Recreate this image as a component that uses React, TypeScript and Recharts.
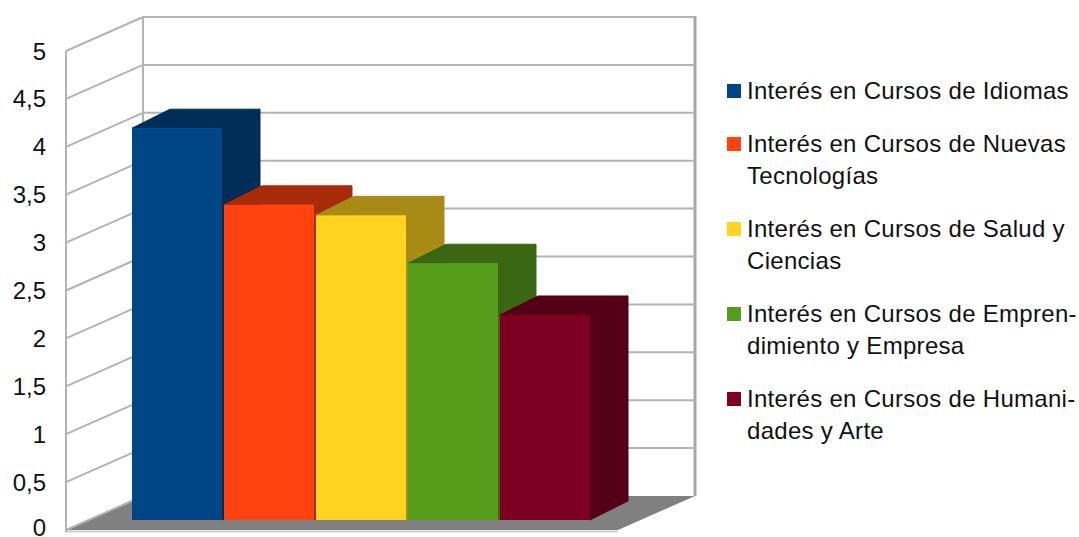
import { BarChart, Bar, XAxis, YAxis, CartesianGrid, Legend } from "recharts";

// Series, in the order they are drawn left to right
const SERIES_KEYS = ["idiomas", "tecnologias", "salud", "empresa", "humanidades"];
const SERIES_NAMES = [
  "Interés en Cursos de Idiomas",
  "Interés en Cursos de Nuevas Tecnologías",
  "Interés en Cursos de Salud y Ciencias",
  "Interés en Cursos de Emprendimiento y Empresa",
  "Interés en Cursos de Humanidades y Arte",
];
const SERIES_VALUES = [4.09, 3.29, 3.18, 2.68, 2.14];

// legend text keeps the hyphenated breaks
const LEGEND_LINES = [
  ["Interés en Cursos de Idiomas"],
  ["Interés en Cursos de Nuevas", "Tecnologías"],
  ["Interés en Cursos de Salud y", "Ciencias"],
  ["Interés en Cursos de Empren-", "dimiento y Empresa"],
  ["Interés en Cursos de Humani-", "dades y Arte"],
];

const Y_TICKS = [0, 0.5, 1, 1.5, 2, 2.5, 3, 3.5, 4, 4.5, 5];

const FRONT_COLORS = ["#004586", "#ff420e", "#ffd320", "#579d1c", "#7e0021"];
const SHADE_COLORS = ["#002d58", "#a82b09", "#a88b15", "#396712", "#530016"];

const DATA = [
  SERIES_KEYS.reduce<Record<string, number | string>>(
    (row, key, i) => ({ ...row, [key]: SERIES_VALUES[i] }),
    { name: "" }
  ),
];

const W = 1079;
const H = 537;
const MARGIN = { top: 41, right: 137, bottom: 17, left: 72 };
const FONT = '"Liberation Sans", Arial, sans-serif';

// 3D box: walls sit behind the plane of the bar fronts
const FRONT_EDGE_X = 66;
const BACK_EDGE_X = 143;
const BACK_RIGHT_X = 695;
const FRONT_RIGHT_X = 618;
const FRONT_DY = 10;
const BACK_DY = -24;
const WALL = "#b3b3b3";

// bar depth
const BAR_DX = 38;
const BAR_DY = 19;

const plotTop = MARGIN.top;
const plotBottom = H - MARGIN.bottom;

const Frame = () => (
  <g>
    <polygon
      points={`${FRONT_EDGE_X},${plotBottom + FRONT_DY} ${FRONT_RIGHT_X},${plotBottom + FRONT_DY} ${BACK_RIGHT_X},${plotBottom + BACK_DY} ${BACK_EDGE_X},${plotBottom + BACK_DY}`}
      fill="#808080"
    />
    <line x1={FRONT_EDGE_X} y1={plotBottom + FRONT_DY + 1.5} x2={FRONT_RIGHT_X} y2={plotBottom + FRONT_DY + 1.5} stroke="#cfcfcf" strokeWidth={2} />
    <line x1={FRONT_EDGE_X} y1={plotTop + FRONT_DY} x2={FRONT_EDGE_X} y2={plotBottom + FRONT_DY + 2} stroke={WALL} strokeWidth={2} />
    <line x1={BACK_EDGE_X} y1={plotTop + BACK_DY} x2={BACK_EDGE_X} y2={plotBottom + BACK_DY} stroke={WALL} strokeWidth={2} />
    <line x1={BACK_RIGHT_X} y1={plotTop + BACK_DY - 1} x2={BACK_RIGHT_X} y2={plotBottom + BACK_DY} stroke="#a6a6a6" strokeWidth={3} />
  </g>
);

// each grid line becomes a side-wall line plus a back-wall line
const renderWallLine = (props: any) => {
  const y = props.y1;
  const isFloor = Math.abs(y - plotBottom) < 0.5;
  return (
    <g key={`wall-${props.index}`}>
      {isFloor && <Frame />}
      <line x1={FRONT_EDGE_X} y1={y + FRONT_DY} x2={BACK_EDGE_X} y2={y + BACK_DY} stroke={WALL} strokeWidth={2} />
      {!isFloor && (
        <line x1={BACK_EDGE_X} y1={y + BACK_DY} x2={BACK_RIGHT_X} y2={y + BACK_DY} stroke={WALL} strokeWidth={2} />
      )}
    </g>
  );
};

// labels sit on the front edge of the side wall; keep the lowest one inside the page
const YTick = (props: any) => {
  const { y, payload } = props;
  return (
    <text
      x={46}
      y={Math.min(y + FRONT_DY, H - 10)}
      textAnchor="end"
      dominantBaseline="central"
      fontFamily={FONT}
      fontSize={24}
      fill="#111"
    >
      {String(payload.value).replace(".", ",")}
    </text>
  );
};

const makeBox = (i: number) => (props: any) => {
  const { x, y, width, height } = props;
  const front = FRONT_COLORS[i];
  const shade = SHADE_COLORS[i];
  return (
    <g>
      <polygon
        points={`${x + width},${y} ${x + width + BAR_DX},${y - BAR_DY} ${x + width + BAR_DX},${y + height - BAR_DY} ${x + width},${y + height}`}
        fill={shade}
        stroke={shade}
        strokeLinejoin="round"
      />
      <polygon
        points={`${x},${y} ${x + BAR_DX},${y - BAR_DY} ${x + width + BAR_DX},${y - BAR_DY} ${x + width},${y}`}
        fill={shade}
        stroke={shade}
        strokeLinejoin="round"
      />
      <rect x={x} y={y} width={width} height={height} fill={front} />
    </g>
  );
};

const renderLegend = () => (
  <div style={{ fontFamily: FONT, fontSize: 24, lineHeight: "32px", color: "#111", letterSpacing: 0.3 }}>
    {LEGEND_LINES.map((lines, i) => (
      <div key={SERIES_KEYS[i]} style={{ position: "relative", paddingLeft: 20, marginBottom: 21 }}>
        <span
          style={{ position: "absolute", left: 0, top: 9, width: 14, height: 14, background: FRONT_COLORS[i] }}
        />
        {lines.map((line) => (
          <div key={line} style={{ whiteSpace: "nowrap" }}>
            {line}
          </div>
        ))}
      </div>
    ))}
  </div>
);

export default function App() {
  return (
    <div style={{ position: "absolute", left: 0, top: 0, width: W, height: H, background: "#fff" }}>
      <BarChart width={W} height={H} data={DATA} margin={MARGIN} barGap={2} barCategoryGap={0}>
        <CartesianGrid vertical={false} horizontal={renderWallLine} />
        <XAxis dataKey="name" hide />
        <YAxis
          width={60}
          domain={[0, 5]}
          ticks={Y_TICKS}
          axisLine={false}
          tickLine={false}
          tick={<YTick />}
          interval={0}
        />
        <Legend
          layout="vertical"
          align="right"
          verticalAlign="top"
          content={renderLegend}
          wrapperStyle={{ left: 727, top: 75, width: 352 }}
        />
        {SERIES_KEYS.map((key, i) => (
          <Bar
            key={key}
            dataKey={key}
            name={SERIES_NAMES[i]}
            fill={FRONT_COLORS[i]}
            shape={makeBox(i)}
            isAnimationActive={false}
          />
        ))}
      </BarChart>
    </div>
  );
}
